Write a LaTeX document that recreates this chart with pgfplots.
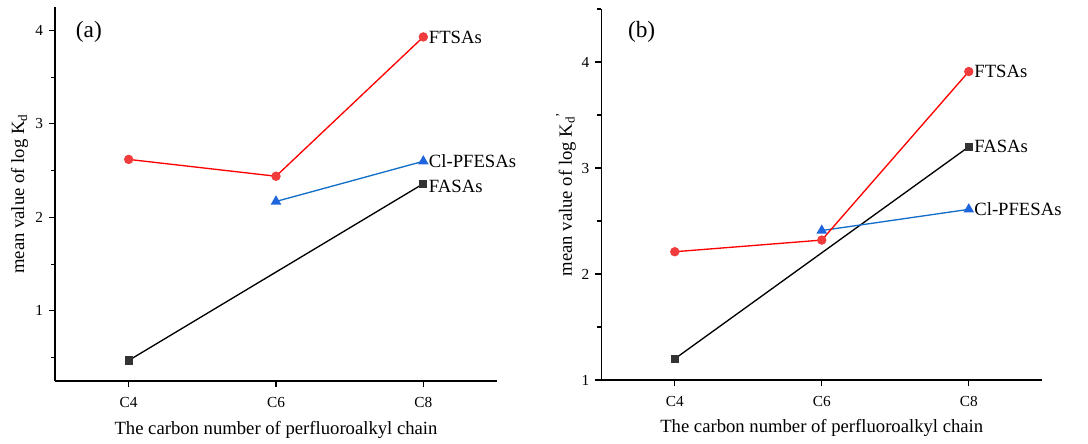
\documentclass[border=0pt]{standalone}
\usepackage{pgfplots}
\pgfplotsset{compat=1.18}
\usepackage{fontspec}
\setmainfont{Liberation Serif}

\definecolor{ftred}{RGB}{255,0,0}
\definecolor{ftredm}{RGB}{240,60,60}
\definecolor{clblue}{RGB}{20,110,200}
\definecolor{clbluem}{RGB}{30,100,220}
\definecolor{fagrey}{RGB}{51,51,51}

\pgfplotsset{panel/.style={
  scale only axis,
  axis x line*=bottom, axis y line*=left,
  axis line style={line width=1pt,-},
  tick align=outside,
  major tick length=4.5pt, minor tick length=3pt,
  tick style={line width=0.8pt,black},
  xmin=-0.5, xmax=2.5,
  xtick={0,1,2}, xticklabels={C4,C6,C8},
  ytick={1,2,3,4},
  ticklabel style={font=\fontsize{11.5}{13}\selectfont},
  xticklabel style={yshift=-4pt},
  yticklabel style={xshift=-1pt},
  label style={font=\fontsize{14}{16}\selectfont},
  xlabel={The carbon number of perfluoroalkyl chain},
  xlabel style={at={(axis description cs:0.5,-0.13)},anchor=center},
  ylabel style={at={(axis description cs:-0.08,0.5)},anchor=center},
  /pgf/number format/assume math mode=true,
  clip=false,
},
fasas/.style={black,line width=1pt,mark=square*,mark size=2.6pt,mark options={fill=fagrey,draw=fagrey}},
clpf/.style={clblue,line width=1pt,mark=triangle*,mark size=3.6pt,mark options={fill=clbluem,draw=clbluem}},
ftsas/.style={ftred,line width=1pt,mark=*,mark size=3pt,mark options={fill=ftredm,draw=ftredm}},
}
\tikzset{serlab/.style={anchor=west,inner sep=0pt,xshift=4pt,font=\fontsize{14}{16}\selectfont}}

\begin{document}
\begin{tikzpicture}
\useasboundingbox (-41.25pt,-46.5pt) rectangle (774.75pt,285.75pt);

% (a)
\begin{axis}[panel,
  width=331.5pt, height=280.5pt,
  ymin=0.25, ymax=4.25,
  minor ytick={0.5,1.5,2.5,3.5},
  ylabel={mean value of log K\textsubscript{d}},
]
\addplot[fasas] coordinates {(0,0.47) (2,2.36)};
\addplot[clpf] coordinates {(1,2.17) (2,2.60)};
\addplot[ftsas] coordinates {(0,2.62) (1,2.44) (2,3.93)};
\node[serlab] at (axis cs:2,3.93) {FTSAs};
\node[serlab] at (axis cs:2,2.60) {Cl-PFESAs};
\node[serlab,yshift=-2pt] at (axis cs:2,2.36) {FASAs};
\node[anchor=west,inner sep=0pt,font=\fontsize{17.5}{19}\selectfont] at (axis cs:-0.36,3.98) {(a)};
\end{axis}

% (b)
\begin{axis}[panel, at={(409.7pt,0.75pt)},
  width=330.75pt, height=278.25pt,
  ymin=1, ymax=4.5,
  minor ytick={1.5,2.5,3.5,4.5},
  ylabel={mean value of log K\textsubscript{d}\kern-0.05em\textsuperscript{\textquoteright}},
]
\addplot[fasas] coordinates {(0,1.20) (2,3.20)};
\addplot[clpf] coordinates {(1,2.41) (2,2.61)};
\addplot[ftsas] coordinates {(0,2.21) (1,2.32) (2,3.91)};
\node[serlab] at (axis cs:2,3.91) {FTSAs};
\node[serlab] at (axis cs:2,3.20) {FASAs};
\node[serlab] at (axis cs:2,2.61) {Cl-PFESAs};
\node[anchor=west,inner sep=0pt,font=\fontsize{17.5}{19}\selectfont] at (axis cs:-0.32,4.28) {(b)};
\end{axis}
\end{tikzpicture}
\end{document}
